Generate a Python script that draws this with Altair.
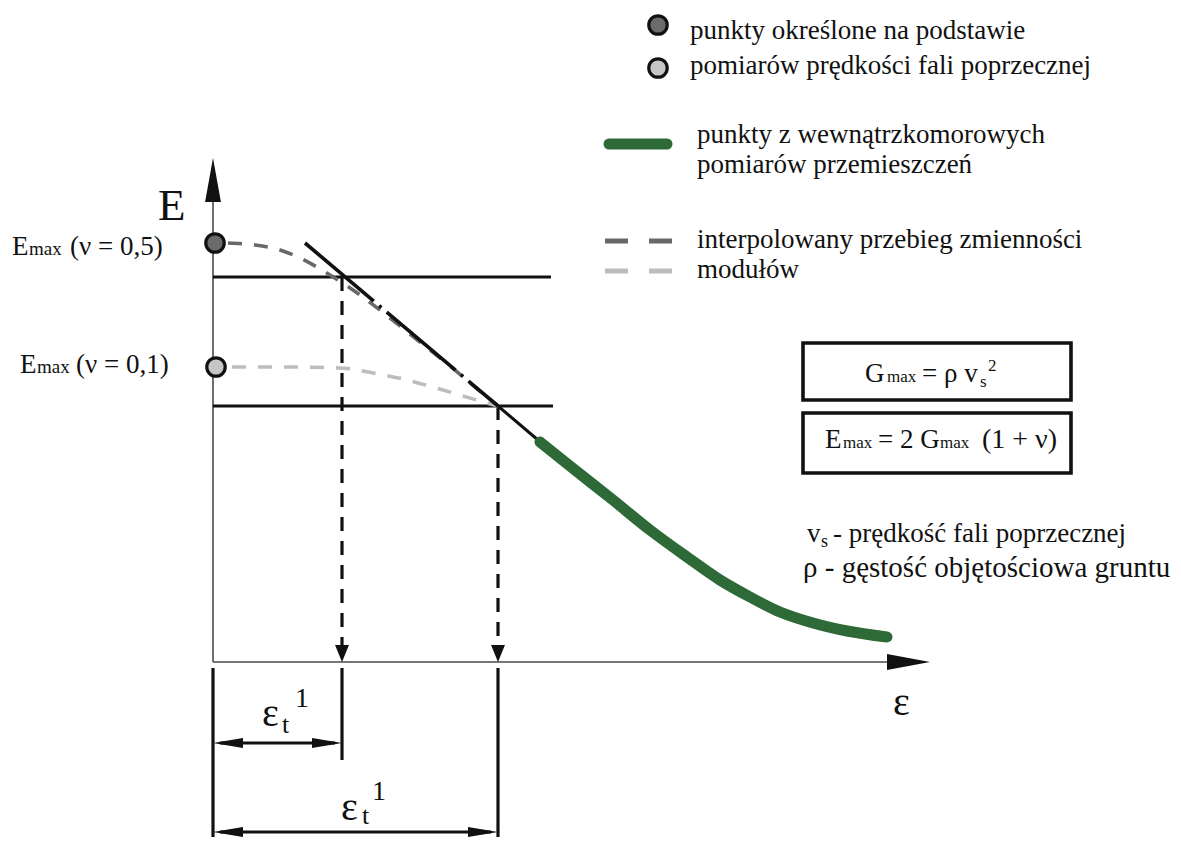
import altair as alt
import pandas as pd

# ---- data (schematic coordinates, in pixel units) ----
dark_x = [228, 255, 280, 300, 330, 360, 390, 420, 450, 475, 498]
dark_y = [243, 245, 250, 258, 275, 295, 318, 342, 366, 387, 406]
light_x = [232, 287, 340, 373, 407, 443, 480, 498]
light_y = [367, 367, 368, 373, 380, 390, 401, 406]
green_x = [540, 575, 613, 650, 687, 720, 750, 780, 813, 847, 887]
green_y = [442, 470, 500, 530, 557, 580, 597, 612, 623, 631, 637]

emax_x = [215, 216]
emax_y = [243, 367]
emax_fill = ["#6b6b6b", "#c6c6c6"]

legend_texts = [
    "punkty określone na podstawie",
    "pomiarów prędkości fali poprzecznej",
    "punkty z wewnątrzkomorowych",
    "pomiarów przemieszczeń",
    "interpolowany przebieg zmienności",
    "modułów",
]

# ---- layout ----
X = alt.Scale(domain=[8, 1173], nice=False, zero=False)
Y = alt.Scale(domain=[8, 837], reverse=True, nice=False, zero=False)
FONT = "Liberation Serif"
INK = "#111111"


def xy(xf="x", yf="y"):
    return dict(x=alt.X(f"{xf}:Q", scale=X, axis=None),
                y=alt.Y(f"{yf}:Q", scale=Y, axis=None))


def rules(rows, **mk):
    df = pd.DataFrame(rows, columns=["x", "y", "x2", "y2"])
    return alt.Chart(df).mark_rule(**mk).encode(
        **xy(), x2=alt.X2("x2:Q"), y2=alt.Y2("y2:Q"))


def curve(xs, ys, **mk):
    df = pd.DataFrame({"x": xs, "y": ys, "i": range(len(xs))})
    return alt.Chart(df).mark_line(**mk).encode(**xy(), order=alt.Order("i:Q"))


def arrows(pts, path, size):
    df = pd.DataFrame(pts, columns=["x", "y"])
    return alt.Chart(df).mark_point(shape=path, filled=True, fill=INK,
                                    strokeWidth=0, size=size, opacity=1).encode(**xy())


layers = []

# axes
layers.append(rules([[213, 180, 213, 662], [213, 662, 900, 662]],
                    stroke="#4a4a4a", strokeWidth=1.6))
# horizontal reference lines
layers.append(rules([[213, 277, 551, 277], [213, 406, 553, 406]],
                    stroke=INK, strokeWidth=3.2))
# vertical dashed projections
layers.append(rules([[342, 277, 342, 646], [498, 406, 498, 646]],
                    stroke=INK, strokeWidth=3.2, strokeDash=[14, 10]))
# dimension lines
layers.append(rules([[213, 668, 213, 845], [342, 668, 342, 760], [498, 668, 498, 845]],
                    stroke=INK, strokeWidth=3.2))
layers.append(rules([[220, 743, 335, 743], [220, 832, 491, 832]],
                    stroke=INK, strokeWidth=3))

# interpolated curves
layers.append(curve(dark_x, dark_y, stroke="#686868", strokeWidth=3.6,
                    strokeDash=[14, 12], interpolate="monotone"))
layers.append(curve(light_x, light_y, stroke="#bdbdbd", strokeWidth=3.6,
                    strokeDash=[14, 12], interpolate="monotone"))

# dash-dot tangent (drawn above the dashed curves)
layers.append(rules([[305, 243, 498, 406]], stroke=INK, strokeWidth=3.6,
                    strokeDash=[90, 7, 3, 7]))
layers.append(rules([[498, 406, 545, 446]], stroke=INK, strokeWidth=3))

# measured curve
layers.append(curve(green_x, green_y, stroke="#2e6a37", strokeWidth=11,
                    strokeCap="round", interpolate="monotone"))

# arrowheads
layers.append(arrows([[213, 180]], "M0,-1L0.36,1L-0.36,1Z", 1936))
layers.append(arrows([[908.5, 662]], "M1,0L-1,-0.37L-1,0.37Z", 1849))
layers.append(arrows([[342, 653.5], [498, 653.5]], "M0,1L-0.82,-1L0.82,-1Z", 289))
layers.append(arrows([[327, 743], [483, 832]], "M1,0L-1,-0.33L-1,0.33Z", 900))
layers.append(arrows([[228, 743], [228, 832]], "M-1,0L1,-0.33L1,0.33Z", 900))

# E_max points on the axis and legend markers
pts = pd.DataFrame({"x": emax_x + [658, 658], "y": emax_y + [25, 68],
                    "f": emax_fill + emax_fill})
layers.append(alt.Chart(pts).mark_point(shape="circle", filled=True, stroke=INK,
                                        strokeWidth=3.2, size=340, opacity=1).encode(
    **xy(), fill=alt.Fill("f:N", scale=None)))

# legend line samples
layers.append(rules([[609, 144, 667, 144]], stroke="#2e6a37", strokeWidth=11, strokeCap="round"))
layers.append(rules([[605, 241, 672, 241]], stroke="#686868", strokeWidth=5, strokeDash=[23, 21]))
layers.append(rules([[605, 271, 672, 271]], stroke="#bdbdbd", strokeWidth=5, strokeDash=[23, 21]))

# formula boxes
boxes = pd.DataFrame({"x": [803, 803], "x2": [1071, 1071], "y": [343, 413], "y2": [400, 473]})
layers.append(alt.Chart(boxes).mark_rect(fill="white", fillOpacity=0, stroke=INK,
                                         strokeWidth=3.6).encode(
    **xy(), x2=alt.X2("x2:Q"), y2=alt.Y2("y2:Q")))

# texts: text, left x, baseline y, font size
texts = [
    ("E", 158, 220, 45),
    ("ε", 893, 715, 40),
    ("E", 12, 255, 27), ("max", 29, 255, 19), ("(ν = 0,5)", 70, 255, 27),
    ("E", 20, 373, 27), ("max", 37, 373, 19), ("(ν = 0,1)", 76, 373, 27),
    ("ε", 262, 726, 40), ("t", 282, 733, 26), ("1", 295, 707, 28),
    ("ε", 341, 820, 40), ("t", 362, 824, 26), ("1", 372, 800, 28),
    ("G", 865, 382, 27), ("max", 887, 382, 17), ("= ρ v", 922, 382, 27),
    ("s", 980, 387, 17), ("2", 988, 371, 17),
    ("E", 825, 448, 27), ("max", 843, 448, 17), ("= 2 G", 878, 448, 27),
    ("max", 940, 448, 17), ("(1 + ν)", 982, 448, 28),
    ("v", 807, 542, 27), ("s", 821, 547, 18), ("- prędkość fali poprzecznej", 833, 542, 27),
    ("ρ - gęstość objętościowa gruntu", 803, 577, 29),
    (legend_texts[0], 690, 39, 27), (legend_texts[1], 690, 74, 27),
    (legend_texts[2], 697, 143, 27), (legend_texts[3], 697, 173, 27),
    (legend_texts[4], 697, 248, 27), (legend_texts[5], 697, 278, 27),
]
tdf = pd.DataFrame(texts, columns=["t", "x", "y", "fs"])
for fs, grp in tdf.groupby("fs"):
    layers.append(alt.Chart(grp.reset_index(drop=True)).mark_text(
        align="left", baseline="alphabetic", font=FONT, fontSize=int(fs), color=INK
    ).encode(**xy(), text=alt.Text("t:N")))

chart = alt.layer(*layers).properties(
    width=1165, height=829, padding=0,
    autosize=alt.AutoSizeParams(type="none"), background="white",
).configure_view(stroke=None)

chart.save("out.html", embed_options={"renderer": "svg", "actions": False})
